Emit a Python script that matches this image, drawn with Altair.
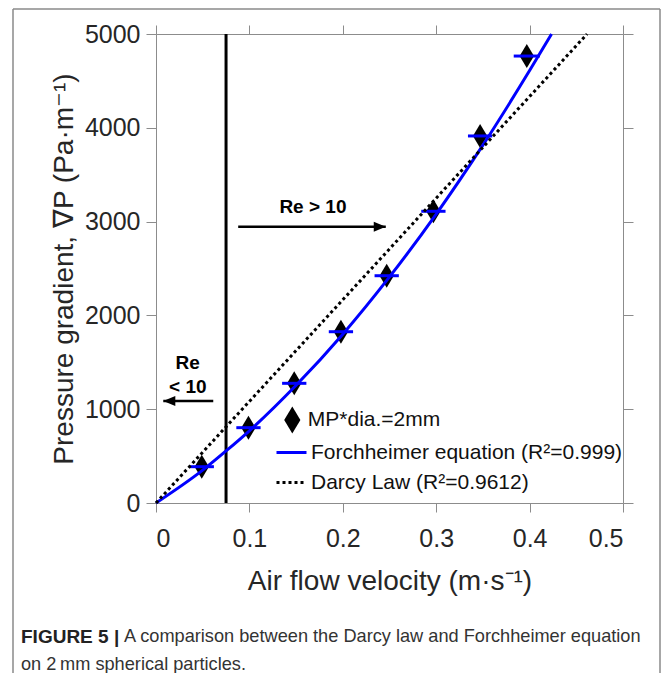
import altair as alt
import pandas as pd

# ---------------- data ----------------
velocity = [0.049, 0.099, 0.148, 0.198, 0.247, 0.297, 0.347, 0.397]
pressure = [387, 803, 1276, 1826, 2423, 3110, 3913, 4765]
vel_err = [0.013, 0.013, 0.013, 0.013, 0.013, 0.013, 0.013, 0.014]

forch_v = [0, 0.05, 0.075, 0.1, 0.15, 0.2, 0.25, 0.3, 0.35, 0.4, 0.4235]
forch_p = [0, 350, 555, 770, 1255, 1800, 2410, 3080, 3815, 4610, 5000]

darcy_v = [0, 0.4615]
darcy_p = [0, 5000]

re_boundary = [0.075]
y_range = [0, 5000]

arrow_dir = ["right", "left"]
arrow_tail = [0.088, 0.0613]
arrow_tip = [0.246, 0.0078]
arrow_y = [2945, 1087]

note_text = ["Re > 10", "Re", "< 10"]
note_x = [0.168, 0.034, 0.034]
note_y = [3159, 1493, 1237]

x_ticks = [0, 0.1, 0.2, 0.3, 0.4, 0.5]
y_ticks = [0, 1000, 2000, 3000, 4000, 5000]

lbl_mp = "MP*dia.=2mm"
lbl_forch = "Forchheimer equation (R²=0.999)"
lbl_darcy = "Darcy Law (R²=0.9612)"
x_title = "Air flow velocity (m·s⁻¹)"
y_title = "Pressure gradient, ∇P (Pa·m⁻¹)"
caption_bold = "FIGURE 5 |"
caption_line1 = "A comparison between the Darcy law and Forchheimer equation"
caption_line2 = "on 2\u2009mm spherical particles."

# ---------------- tables ----------------
pts = pd.DataFrame({
    "v": velocity,
    "p": pressure,
    "lo": [v - e for v, e in zip(velocity, vel_err)],
    "hi": [v + e for v, e in zip(velocity, vel_err)],
    "series": lbl_mp,
})
forch = pd.DataFrame({"v": forch_v, "p": forch_p, "series": lbl_forch})
darcy = pd.DataFrame({"v": darcy_v, "p": darcy_p, "series": lbl_darcy})
bound = pd.DataFrame({"v": re_boundary, "p0": [y_range[0]], "p1": [y_range[1]]})
arrows = pd.DataFrame({"dir": arrow_dir, "tail": arrow_tail, "tip": arrow_tip, "p": arrow_y})
notes = pd.DataFrame({"t": note_text, "v": note_x, "p": note_y})
blank = pd.DataFrame({"k": [0]})

FONT = "Liberation Sans"
TXT = "#262626"
AX = "#8c8c8c"
BLUE = "#0000ff"
W, H = 467, 469

xs = alt.Scale(domain=[0, 0.5], nice=False, zero=False)
ys = alt.Scale(domain=[0, 5000], nice=False, zero=False)

def qx(f, axis=None):
    return alt.X(f, type="quantitative", scale=xs, axis=axis)

def qy(f, axis=None):
    return alt.Y(f, type="quantitative", scale=ys, axis=axis)

diamond = "M0,-1L0.6,0L0,1L-0.6,0Z"

# diamonds (carry bottom + left axes)
pts_layer = alt.Chart(pts).mark_point(filled=True, color="black", opacity=1, size=576).encode(
    x=qx("v", alt.Axis(orient="bottom", values=x_ticks, format="~g", title=x_title,
                       tickSize=9, labelPadding=14, titleX=W / 2, titleY=78,
                       titleAlign="center", titleBaseline="middle")),
    y=qy("p", alt.Axis(orient="left", values=y_ticks, format="d", title=y_title,
                       tickSize=10, labelPadding=6, titleX=-92, titleY=H / 2,
                       titleAngle=270, titleAlign="center", titleBaseline="middle")),
    shape=alt.Shape("series:N", scale=alt.Scale(domain=[lbl_mp], range=[diamond]),
                    legend=alt.Legend(title=None, orient="none", legendX=122.8, legendY=372.5,
                                      symbolSize=729, symbolFillColor="black",
                                      symbolStrokeColor="black", symbolStrokeWidth=0,
                                      labelOffset=2, padding=0)),
)

err_layer = alt.Chart(pts).mark_rule(color=BLUE, strokeWidth=3).encode(
    x=qx("lo"), x2="hi", y=qy("p")
)

forch_layer = alt.Chart(forch).mark_line(strokeWidth=3, interpolate="monotone").encode(
    x=qx("v"), y=qy("p"),
    color=alt.Color("series:N", scale=alt.Scale(domain=[lbl_forch], range=[BLUE]),
                    legend=alt.Legend(title=None, orient="none", legendX=119, legendY=402,
                                      symbolType="stroke", symbolSize=900,
                                      symbolStrokeWidth=3, labelOffset=3, padding=0)),
)

darcy_layer = alt.Chart(darcy).mark_line(strokeWidth=3, color="black", strokeCap="butt").encode(
    x=qx("v", alt.Axis(orient="top", values=x_ticks, labels=False, title=None, tickSize=9)),
    y=qy("p", alt.Axis(orient="right", values=y_ticks, labels=False, title=None, tickSize=10)),
    strokeDash=alt.StrokeDash("series:N", scale=alt.Scale(domain=[lbl_darcy], range=[[3, 3]]),
                              legend=alt.Legend(title=None, orient="none", legendX=119, legendY=432,
                                                symbolType="stroke", symbolSize=900,
                                                symbolStrokeColor="black", symbolStrokeWidth=3,
                                                labelOffset=3, padding=0)),
)

bound_layer = alt.Chart(bound).mark_rule(color="black", strokeWidth=3).encode(
    x=qx("v"), y=qy("p0"), y2="p1"
)

shaft_layer = alt.Chart(arrows).mark_rule(color="black", strokeWidth=2.5).encode(
    x=qx("tail"), x2="tip", y=qy("p")
)

head_layer = alt.Chart(arrows).mark_point(filled=True, color="black", opacity=1, size=576).encode(
    x=qx("tip"), y=qy("p"),
    shape=alt.Shape("dir:N", scale=alt.Scale(domain=["right", "left"],
                                             range=["M0,0L-1,-0.42L-1,0.42Z", "M0,0L1,-0.42L1,0.42Z"]),
                    legend=None),
)

note_layer = alt.Chart(notes).mark_text(font=FONT, fontSize=19, fontWeight="bold", color="black",
                                        align="center", baseline="middle").encode(
    x=qx("v"), y=qy("p"), text="t:N"
)

# decorative outer frame and caption
FR = "#8a8a8a"
frame_top = alt.Chart(blank).mark_rule(color=FR, strokeWidth=1.5).encode(
    x=alt.value(-143), x2=alt.value(504), y=alt.value(-25))
frame_left = alt.Chart(blank).mark_rule(color=FR, strokeWidth=1.5).encode(
    x=alt.value(-143), y=alt.value(-25), y2=alt.value(640))
frame_right = alt.Chart(blank).mark_rule(color=FR, strokeWidth=1.5).encode(
    x=alt.value(504), y=alt.value(-25), y2=alt.value(640))

cap_b = alt.Chart(blank).mark_text(font=FONT, fontSize=19, fontWeight="bold", color="#222",
                                   align="left", baseline="middle").encode(
    x=alt.value(-135), y=alt.value(603), text=alt.value(caption_bold))
cap_1 = alt.Chart(blank).mark_text(font=FONT, fontSize=18.2, color="#333",
                                   align="left", baseline="middle").encode(
    x=alt.value(-32), y=alt.value(603), text=alt.value(caption_line1))
cap_2 = alt.Chart(blank).mark_text(font=FONT, fontSize=18.2, color="#333",
                                   align="left", baseline="middle").encode(
    x=alt.value(-135), y=alt.value(631), text=alt.value(caption_line2))

chart = alt.layer(
    frame_top, frame_left, frame_right, cap_b, cap_1, cap_2,
    bound_layer, pts_layer, err_layer, forch_layer, darcy_layer,
    shaft_layer, head_layer, note_layer,
).resolve_axis(x="independent", y="independent").resolve_scale(shape="independent").properties(
    width=W, height=H,
    autosize=alt.AutoSizeParams(type="none"),
    padding={"left": 148, "top": 26, "right": 38, "bottom": 170},
).configure_view(stroke=None).configure_axis(
    grid=False, domainColor=AX, tickColor=AX, domainWidth=1, tickWidth=1,
    labelFont=FONT, labelFontSize=25, labelColor=TXT,
    titleFont=FONT, titleFontSize=28, titleFontWeight="normal", titleColor=TXT,
).configure_legend(
    labelFont=FONT, labelFontSize=21, labelColor="#111", labelLimit=500,
)

chart.save("out.html", embed_options={"renderer": "svg", "actions": False})
